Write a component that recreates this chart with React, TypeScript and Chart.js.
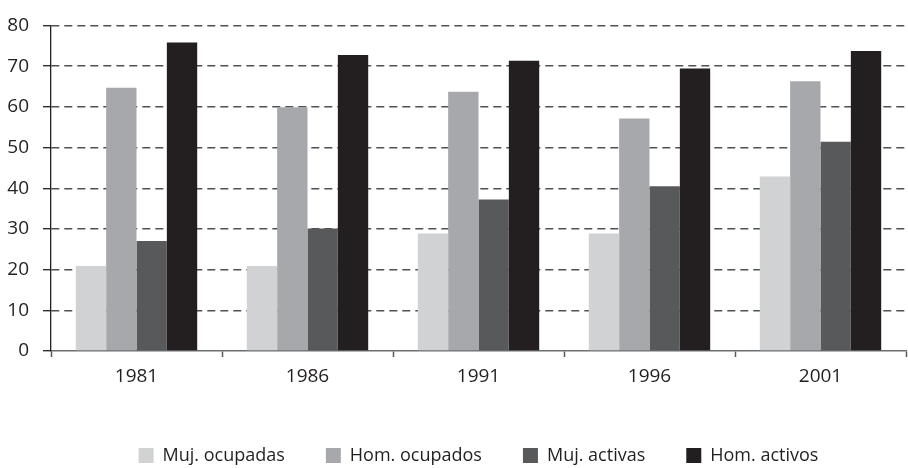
import React, { useEffect, useRef } from "react";
import { Chart, registerables } from "chart.js";

Chart.register(...registerables);

const years = ["1981", "1986", "1991", "1996", "2001"];
const mujOcupadas = [20.9, 20.9, 28.9, 28.9, 42.9];
const homOcupados = [64.7, 59.9, 63.7, 57.1, 66.3];
const mujActivas = [27.0, 30.1, 37.2, 40.5, 51.4];
const homActivos = [75.8, 72.7, 71.3, 69.4, 73.7];

const seriesLabels = ["Muj. ocupadas", "Hom. ocupados", "Muj. activas", "Hom. activos"];
const seriesColors = ["#d1d2d4", "#a7a8ab", "#58595b", "#231f20"];

const FONT = "'Open Sans', 'Liberation Sans', sans-serif";
const LEGEND_PAD = 41;
const LEGEND_FONT = 18;

const legendShift = {
  id: "legendShift",
  afterLayout(chart: any) {
    const lg = chart.legend;
    if (!lg || typeof lg.top !== "number") return;
    const itemH = typeof lg._itemHeight === "number" ? lg._itemHeight : LEGEND_FONT;
    const targetCenter = 455.5;
    const newTop = targetCenter - LEGEND_PAD - itemH / 2;
    const h = lg.bottom - lg.top;
    lg.top = newTop;
    lg.bottom = newTop + h;
  },
};

export default function App() {
  const ref = useRef<HTMLCanvasElement | null>(null);

  useEffect(() => {
    if (!ref.current) return;
    const values = [mujOcupadas, homOcupados, mujActivas, homActivos];
    const chart = new Chart(ref.current, {
      type: "bar",
      data: {
        labels: years,
        datasets: values.map((v, i) => ({
          label: seriesLabels[i],
          data: v,
          backgroundColor: seriesColors[i],
          borderWidth: 0,
          barPercentage: 1,
          categoryPercentage: 0.71,
        })),
      },
      plugins: [legendShift],
      options: {
        responsive: false,
        animation: false,
        layout: { padding: { top: 13, right: 2, left: 0, bottom: 0 } },
        plugins: {
          tooltip: { enabled: false },
          legend: {
            position: "bottom",
            fullSize: false,
            labels: {
              boxWidth: 15,
              boxHeight: 15,
              padding: LEGEND_PAD,
              color: "#231f20",
              font: { family: FONT, size: LEGEND_FONT },
            },
          },
        },
        scales: {
          x: {
            afterFit: (s: any) => {
              s.height = 117 - (LEGEND_FONT + LEGEND_PAD + 10);
            },
            grid: {
              display: true,
              offset: true,
              drawOnChartArea: false,
              drawTicks: true,
              tickLength: 6,
              tickColor: "#58595b",
              tickWidth: 1.5,
            },
            border: { display: true, color: "#6d6e70", width: 1.5 },
            ticks: {
              color: "#231f20",
              padding: 8,
              font: { family: FONT, size: 19 },
            },
          },
          y: {
            min: 0,
            max: 80,
            afterFit: (s: any) => {
              s.width = 51;
            },
            grid: {
              display: true,
              drawTicks: true,
              tickLength: 8,
              lineWidth: 1.4,
              color: (ctx: any) => (ctx.tick && ctx.tick.value === 0 ? "rgba(0,0,0,0)" : "#505153"),
              tickColor: "#231f20",
              tickWidth: 1.3,
            },
            border: { display: true, color: "#231f20", width: 1.3, dash: [8, 5] },
            ticks: {
              stepSize: 10,
              color: "#231f20",
              padding: 14,
              font: { family: FONT, size: 19 },
            },
          },
        },
      },
    });
    return () => chart.destroy();
  }, []);

  return (
    <div style={{ position: "fixed", left: 0, top: 0, width: 908, height: 468, background: "#fff" }}>
      <canvas ref={ref} width={908} height={468} style={{ display: "block" }} />
    </div>
  );
}
